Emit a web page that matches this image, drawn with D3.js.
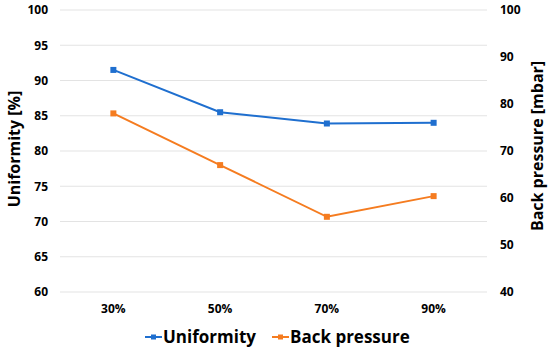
<!DOCTYPE html>
<html>
<head>
<meta charset="utf-8">
<script src="https://cdn.jsdelivr.net/npm/d3@7"></script>
<style>
  body { margin: 0; background: #fff; }
  text { font-family: "Open Sans", "Liberation Sans", sans-serif; font-weight: bold; fill: #000; }
</style>
</head>
<body>
<script>
const categories = ["30%", "50%", "70%", "90%"];
const uniformity = [91.5, 85.5, 83.9, 84.0];
const backPressure = [78.0, 67.0, 56.0, 60.4];
const leftTicks = [60, 65, 70, 75, 80, 85, 90, 95, 100];
const rightTicks = [40, 50, 60, 70, 80, 90, 100];

const width = 550, height = 348;
const margin = { top: 10, right: 63, bottom: 56, left: 60 };
const plotW = width - margin.left - margin.right;
const plotH = height - margin.top - margin.bottom;

const svg = d3.select('body').append('svg')
    .attr('width', width)
    .attr('height', height);

const g = svg.append('g')
    .attr('transform', `translate(${margin.left}, ${margin.top})`);

const x = d3.scaleBand().domain(categories).range([0, plotW]);
const yL = d3.scaleLinear().domain([60, 100]).range([plotH, 0]);
const yR = d3.scaleLinear().domain([40, 100]).range([plotH, 0]);

// gridlines
g.append('g')
    .selectAll('line')
    .data(leftTicks)
    .enter()
    .append('line')
    .attr('x1', 0)
    .attr('x2', plotW)
    .attr('y1', d => yL(d))
    .attr('y2', d => yL(d))
    .attr('stroke', '#e3e3e3')
    .attr('stroke-width', 1);

// left axis
const axL = g.append('g')
    .call(d3.axisLeft(yL).tickValues(leftTicks).tickSize(0).tickPadding(12));
axL.select('.domain').remove();
axL.selectAll('text').style('font-size', '12px');

// right axis
const axR = g.append('g')
    .attr('transform', `translate(${plotW}, 0)`)
    .call(d3.axisRight(yR).tickValues(rightTicks).tickSize(0).tickPadding(13));
axR.select('.domain').remove();
axR.selectAll('text').style('font-size', '12px');

// x axis
const axX = g.append('g')
    .attr('transform', `translate(0, ${plotH})`)
    .call(d3.axisBottom(x).tickSize(0).tickPadding(12));
axX.select('.domain').remove();
axX.selectAll('text').style('font-size', '12px');

// axis titles
svg.append('text')
    .attr('transform', `translate(20, ${margin.top + plotH / 2 - 2}) rotate(-90)`)
    .attr('text-anchor', 'middle')
    .style('font-size', '16px')
    .text('Uniformity [%]');

svg.append('text')
    .attr('transform', `translate(543, ${margin.top + plotH / 2 - 5}) rotate(-90)`)
    .attr('text-anchor', 'middle')
    .style('font-size', '16px')
    .text('Back pressure [mbar]');

const cx = d => x(d) + x.bandwidth() / 2;

function drawSeries(values, scale, color) {
    const pts = values.map((v, i) => [cx(categories[i]), scale(v)]);
    g.append('path')
        .attr('d', d3.line()(pts))
        .attr('fill', 'none')
        .attr('stroke', color)
        .attr('stroke-width', 2);
    g.selectAll(null)
        .data(pts)
        .enter()
        .append('rect')
        .attr('x', d => d[0] - 3)
        .attr('y', d => d[1] - 3)
        .attr('width', 6)
        .attr('height', 6)
        .attr('fill', color);
}

drawSeries(uniformity, yL, '#1f6fcf');
drawSeries(backPressure, yR, '#f57c20');

// legend
const legend = [
    { name: 'Uniformity', color: '#1f6fcf', x: 145 },
    { name: 'Back pressure', color: '#f57c20', x: 272 }
];
const lg = svg.append('g').attr('transform', 'translate(0, 337)');
legend.forEach(l => {
    lg.append('line')
        .attr('x1', l.x).attr('x2', l.x + 17)
        .attr('y1', 0).attr('y2', 0)
        .attr('stroke', l.color).attr('stroke-width', 2);
    lg.append('rect')
        .attr('x', l.x + 6).attr('y', -2.5)
        .attr('width', 5).attr('height', 5)
        .attr('fill', l.color);
    lg.append('text')
        .attr('x', l.x + 18)
        .attr('y', 6)
        .style('font-size', '17px')
        .text(l.name);
});
</script>
</body>
</html>
